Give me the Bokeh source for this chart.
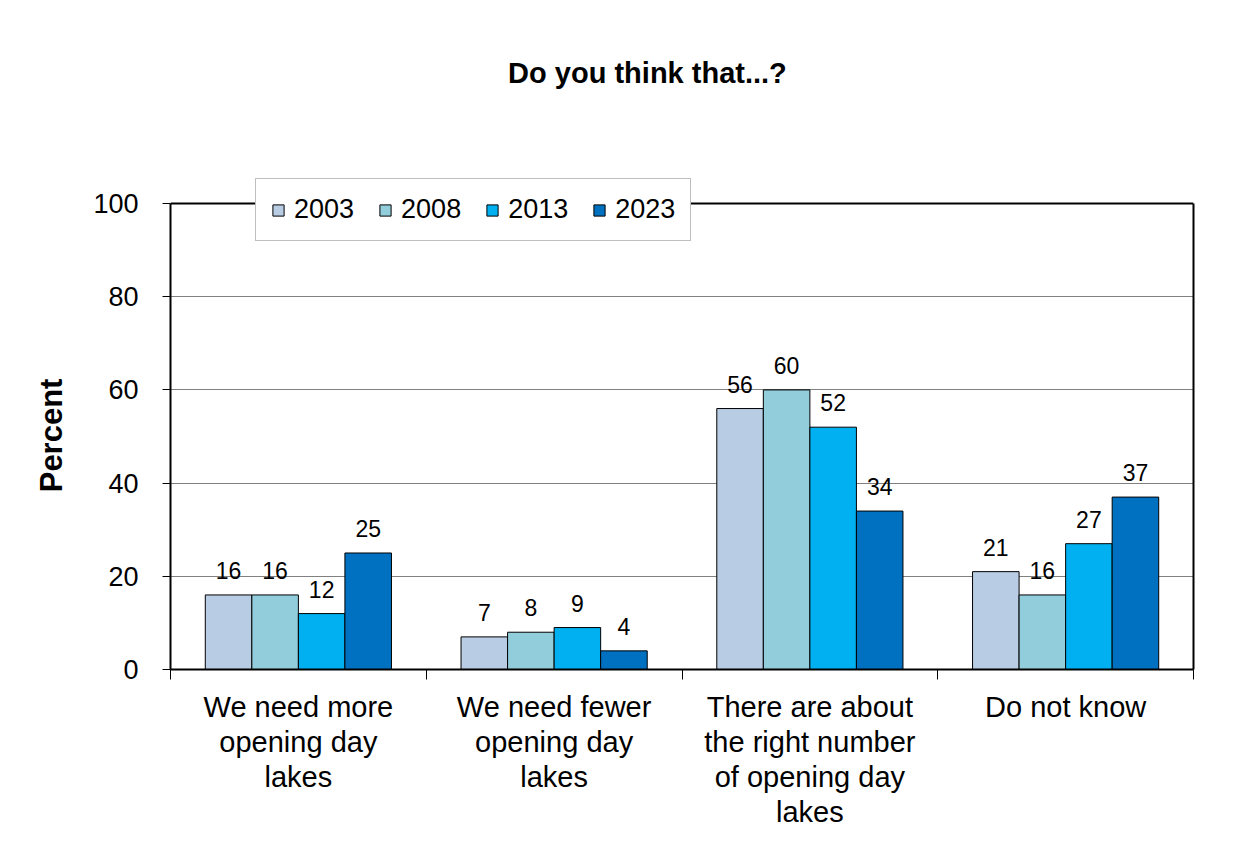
from bokeh.plotting import figure
from bokeh.models import (ColumnDataSource, Range1d, FixedTicker, LabelSet, Legend,
                          LegendItem, Span, LinearAxis, Label)
from bokeh.core.properties import value
from bokeh.embed import file_html
from bokeh.resources import INLINE

# ---- data ----
title_text = "Do you think that...?"
y_title = "Percent"
categories = ["We need more\nopening day\nlakes",
              "We need fewer\nopening day\nlakes",
              "There are about\nthe right number\nof opening day\nlakes",
              "Do not know"]
years = ["2003", "2008", "2013", "2023"]
v2003 = [16, 7, 56, 21]
v2008 = [16, 8, 60, 16]
v2013 = [12, 9, 52, 27]
v2023 = [25, 4, 34, 37]
colors = ["#b8cce4", "#92cddc", "#00b0f0", "#0070c0"]
y_ticks = [0, 20, 40, 60, 80, 100]

series = [v2003, v2008, v2013, v2023]
FONT = "Liberation Sans"

# frame spans 0..139.27 so that the 0..100 plot area sits where the reference has it
p = figure(width=1236, height=833, output_backend="svg", toolbar_location=None,
           title=None,
           x_range=Range1d(0, 4), y_range=Range1d(0, 139.27),
           min_border_left=170, min_border_right=43, min_border_top=20,
           min_border_bottom=164)
p.background_fill_color = "white"
p.border_fill_color = "white"
p.outline_line_color = None

bar_w = 0.182
renderers = []
for i, (yr, vals, col) in enumerate(zip(years, series, colors)):
    xs = [k + 0.5 + (i - 1.5) * bar_w for k in range(len(vals))]
    src = ColumnDataSource(dict(x=xs, top=vals, lab=[str(v) for v in vals]))
    r = p.vbar(x="x", top="top", bottom=0, width=bar_w, source=src,
               fill_color=col, line_color="black", line_width=1)
    renderers.append(r)
    p.add_layout(LabelSet(x="x", y="top", text="lab", source=src, y_offset=16,
                          text_align="center", text_baseline="alphabetic",
                          text_font=value(FONT), text_font_size="23px",
                          text_color="black"))

# axes
xax = p.xaxis[0]
xax.ticker = FixedTicker(ticks=[0.5, 1.5, 2.5, 3.5], minor_ticks=[0, 1, 2, 3, 4])
xax.major_label_overrides = {k + 0.5: c for k, c in enumerate(categories)}
xax.major_tick_line_color = None
xax.major_tick_out = 10
xax.major_tick_in = 0
xax.minor_tick_line_color = "black"
xax.minor_tick_out = 10
xax.minor_tick_in = 0
xax.axis_line_color = "black"
xax.axis_line_width = 2
xax.major_label_text_font = FONT
xax.major_label_text_font_size = "29px"
xax.major_label_text_color = "black"
xax.major_label_text_line_height = 1.1
xax.major_label_standoff = 11
xax.major_label_orientation = "horizontal"

yax = p.yaxis[0]
yax.bounds = (0, 100)
yax.ticker = FixedTicker(ticks=y_ticks, minor_ticks=[])
yax.major_tick_out = 8
yax.major_tick_in = 0
yax.major_tick_line_color = "black"
yax.axis_line_color = "black"
yax.axis_line_width = 2
yax.major_label_text_font = FONT
yax.major_label_text_font_size = "27px"
yax.major_label_text_color = "black"
yax.major_label_standoff = 24
# padded with no-break spaces so the visible word is centred on the 0..100 span
yax.axis_label = y_title + "\u00a0" * 21
yax.axis_label_text_font = FONT
yax.axis_label_text_font_size = "31px"
yax.axis_label_text_font_style = "bold"
yax.axis_label_text_color = "black"
yax.axis_label_standoff = 21

# right border of the plot area (0..100 only)
rax = LinearAxis(bounds=(0, 100), ticker=FixedTicker(ticks=[], minor_ticks=[]),
                 major_tick_line_color=None, minor_tick_line_color=None,
                 major_label_text_font_size="0px", axis_line_color="black",
                 axis_line_width=2)
p.add_layout(rax, "right")

p.xgrid.grid_line_color = None
p.ygrid.ticker = FixedTicker(ticks=[20, 40, 60, 80])
p.ygrid.grid_line_color = "#808080"
p.ygrid.grid_line_width = 1

# top border at 100
p.add_layout(Span(location=100, dimension="width", line_color="black", line_width=2))

# title
p.add_layout(Label(x=1.865, y=128.1, text=title_text, text_align="center",
                   text_baseline="middle", text_font=FONT,
                   text_font_size="29px", text_font_style="bold", text_color="black"))

# legend
legend = Legend(items=[LegendItem(label=yr, renderers=[r]) for yr, r in zip(years, renderers)],
                orientation="horizontal", location=(85, 428))
legend.label_text_font = FONT
legend.label_text_font_size = "27px"
legend.label_text_color = "black"
legend.glyph_width = 14
legend.glyph_height = 14
legend.label_standoff = 9
legend.spacing = 24
legend.padding = 15
legend.margin = 0
legend.border_line_color = "#7f7f7f"
legend.border_line_width = 1.5
legend.background_fill_color = "white"
legend.background_fill_alpha = 1
p.add_layout(legend, "center")

open("out.html", "w").write(file_html(p, INLINE))
